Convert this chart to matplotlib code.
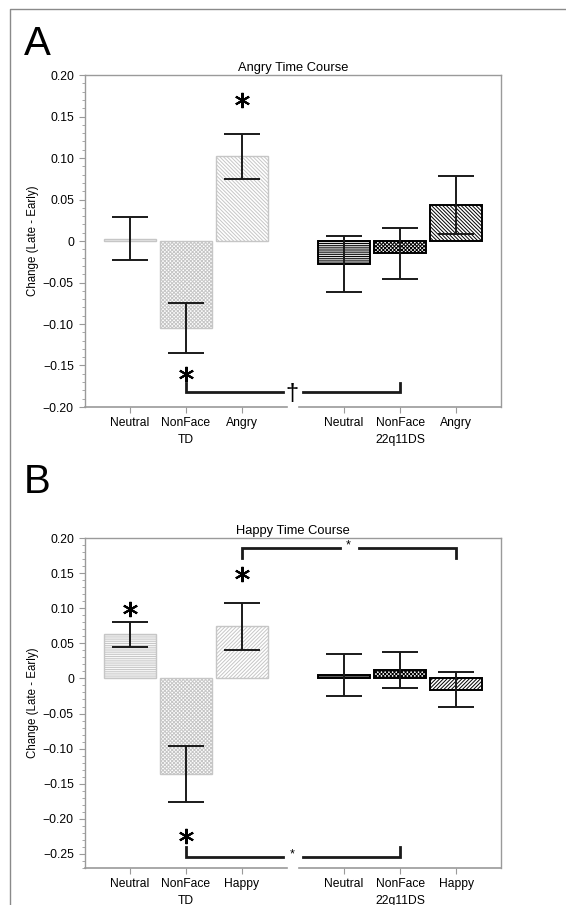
import matplotlib.pyplot as plt
import numpy as np
from matplotlib.lines import Line2D

plt.rcParams['font.family'] = ['Liberation Sans', 'DejaVu Sans']
plt.rcParams['hatch.linewidth'] = 0.7

# category positions (TD group, then 22q11DS group)
pos = [0, 1, 2, 3.82, 4.82, 5.82]

angry_labels = ['Neutral', 'NonFace\nTD', 'Angry', 'Neutral', 'NonFace\n22q11DS', 'Angry']
angry_mean = [0.003, -0.105, 0.102, -0.028, -0.015, 0.043]
angry_err = [0.026, 0.030, 0.027, 0.034, 0.031, 0.035]

happy_labels = ['Neutral', 'NonFace\nTD', 'Happy', 'Neutral', 'NonFace\n22q11DS', 'Happy']
happy_mean = [0.063, -0.136, 0.074, 0.005, 0.012, -0.016]
happy_err = [0.018, 0.040, 0.034, 0.030, 0.026, 0.025]

# significance markers: (category index, y)
angry_stars = [(2, 0.170), (1, -0.160)]
happy_stars = [(0, 0.0995), (2, 0.149), (1, -0.225)]

# brackets: (from idx, to idx, tip y, bar y, label, label y)
angry_brackets = [(1, 4, -0.171, -0.182, '†', -0.184)]
happy_brackets = [(1, 4, -0.240, -0.2545, '*', -0.250),
                  (2, 5, 0.1716, 0.1858, '*', 0.190)]

gray = '#9a9a9a'


def draw_panel(ax, labels, means, errs, hatches, stars, brackets, title, ylim, yticks):
    for i in range(6):
        td = i < 3
        ec = '#c6c6c6' if td else 'black'
        ax.bar(pos[i], means[i], width=0.93, color='white', edgecolor=ec,
               hatch=hatches[i % 3], linewidth=1.0 if td else 1.4, zorder=2)
    ax.errorbar(pos, means, yerr=errs, fmt='none', ecolor='#1a1a1a',
                elinewidth=1.4, capsize=13, capthick=1.4, zorder=3)

    for idx, y in stars:
        ax.plot(pos[idx], y, marker=(6, 2, 0), ms=11, mew=1.5, color='black',
                zorder=4)

    for a, b, y_tip, y_bar, lab, y_lab in brackets:
        xa, xb = pos[a], pos[b]
        mid = (xa + xb) / 2
        half = 0.17
        ax.plot([xa, xa, mid - half], [y_tip, y_bar, y_bar], color='#1a1a1a',
                lw=2.0, solid_joinstyle='miter', zorder=4)
        ax.plot([mid + half, xb, xb], [y_bar, y_bar, y_tip], color='#1a1a1a',
                lw=2.0, solid_joinstyle='miter', zorder=4)
        fs = 17 if lab == '†' else 9
        ax.text(mid - 0.02, y_lab, lab, ha='center', va='center', fontsize=fs,
                zorder=4)

    ax.set_xlim(-0.8, 6.62)
    ax.set_ylim(*ylim)
    ax.set_xticks(pos)
    ax.set_xticklabels(labels, fontsize=8.7, linespacing=1.55)
    ax.set_yticks(yticks)
    ax.set_yticklabels(['0' if abs(t) < 1e-9 else ('%.2f' % t).replace('-', '\u2212')
                        for t in yticks], fontsize=8.7)
    ax.set_yticks(np.arange(ylim[0], ylim[1] + 0.001, 0.01), minor=True)
    ax.tick_params(axis='y', which='major', length=4, color=gray, pad=4)
    ax.tick_params(axis='y', which='minor', length=2.5, color=gray)
    ax.tick_params(axis='x', length=4, color=gray, pad=3)
    for s in ['left', 'top', 'right']:
        ax.spines[s].set_color(gray)
        ax.spines[s].set_linewidth(1.0)
    ax.spines['bottom'].set_visible(False)
    tr = ax.get_xaxis_transform()
    ax.plot([-0.8, 2.8], [0, 0], color=gray, lw=1.2, transform=tr, clip_on=False)
    ax.plot([3.02, 6.62], [0, 0], color=gray, lw=1.2, transform=tr, clip_on=False)
    ax.set_title(title, fontsize=9.3, pad=3)
    ax.set_ylabel('Change (Late - Early)', fontsize=8.3)
    ax.yaxis.set_label_coords(-0.11, 0.5)


fig = plt.figure(figsize=(5.66, 9.05), dpi=100)

axA = fig.add_axes([85 / 566, 1 - 407 / 905, 416 / 566, 332 / 905])
draw_panel(axA, angry_labels, angry_mean, angry_err,
           ['---------', 'xxxxxxxxx', '\\\\\\\\\\\\\\\\\\'], angry_stars, angry_brackets,
           'Angry Time Course', (-0.20, 0.20), np.arange(-0.20, 0.201, 0.05))

axB = fig.add_axes([85 / 566, 1 - 868 / 905, 416 / 566, 330 / 905])
draw_panel(axB, happy_labels, happy_mean, happy_err,
           ['---------', 'xxxxxxxxx', '/////////'], happy_stars, happy_brackets,
           'Happy Time Course', (-0.27, 0.20), np.arange(-0.25, 0.201, 0.05))

fig.text(24 / 566, 1 - 55 / 905, 'A', fontsize=29, ha='left', va='baseline')
fig.text(24 / 566, 1 - 493 / 905, 'B', fontsize=29, ha='left', va='baseline')

# outer frame (top and left edges)
fig.add_artist(Line2D([10 / 566, 10 / 566, 1], [0, 1 - 9 / 905, 1 - 9 / 905],
                      color='#8a8a8a', lw=1.0, transform=fig.transFigure))

fig.savefig('out.png', dpi=100)
